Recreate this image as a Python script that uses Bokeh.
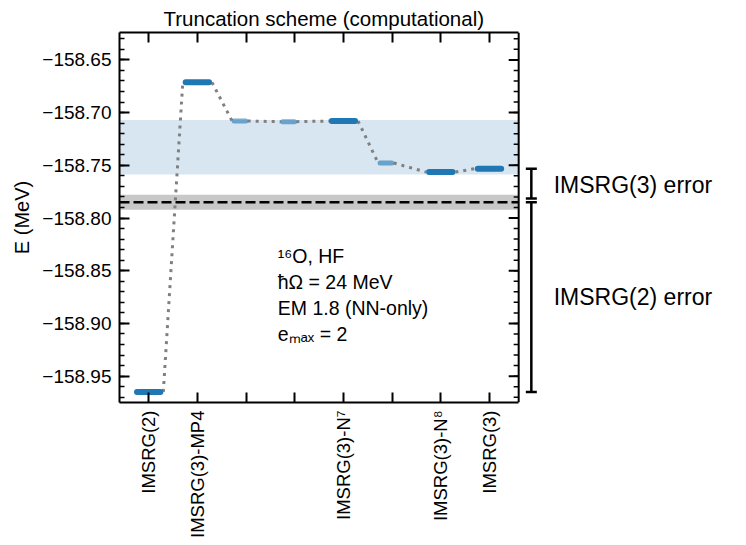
import math
from bokeh.plotting import figure
from bokeh.models import (ColumnDataSource, FixedTicker, LinearAxis, Range1d, Label,
                          Whisker, TeeHead, BoxAnnotation, Span, CustomJSTickFormatter,
                          CustomLabelingPolicy)
from bokeh.embed import file_html
from bokeh.resources import INLINE

# ---------------- data ----------------
positions = [0, 1, 2, 3, 4, 5, 6, 7]
tick_labels = ["IMSRG(2)", "IMSRG(3)-MP4", "", "", "IMSRG(3)-N\u2077", "", "IMSRG(3)-N\u2078", "IMSRG(3)"]
energies = [-158.965, -158.6713, -158.708, -158.7086, -158.708, -158.7478, -158.7564, -158.7532]
highlight = [True, True, False, False, True, False, True, True]
band_range = [-158.7586, -158.707]
exact = -158.785
exact_band = [-158.7921, -158.7779]
y_ticks = [-158.95, -158.90, -158.85, -158.80, -158.75, -158.70, -158.65]
y_minor = [round(-158.97 + 0.01 * i, 2) for i in range(35)]
info_lines = ["\u00b9\u2076O, HF", "\u0127\u03a9 = 24 MeV", "EM 1.8 (NN-only)", "e\u2098\u2090\u2093 = 2"]

FONT = "Liberation Sans"
BLUE = "#1f77b4"

x0, x1 = -0.6, 7.6          # axes box
x_canvas = 12.28             # frame extends right to hold the error-bar annotations
y0, y1 = -158.975, -158.624

p = figure(frame_width=627, frame_height=370, x_range=Range1d(x0, x_canvas),
           y_range=Range1d(y0, y1), output_backend="svg", toolbar_location=None,
           min_border_left=119, min_border_right=0, min_border_top=32, min_border_bottom=0)
p.xgrid.visible = False
p.ygrid.visible = False
p.outline_line_color = None

p.title.text = "Truncation scheme (computational)"
p.title.text_font = FONT
p.title.text_font_size = "20.5px"
p.title.text_font_style = "normal"
p.title.text_color = "black"
p.title.align = "left"
p.title.offset = 44
p.title.standoff = 6

# shaded bands
p.add_layout(BoxAnnotation(left=x0, right=x1, bottom=band_range[0], top=band_range[1],
                           fill_color=BLUE, fill_alpha=0.18, line_alpha=0, level="underlay"))
p.add_layout(BoxAnnotation(left=x0, right=x1, bottom=exact_band[0], top=exact_band[1],
                           fill_color="#c8c8c8", fill_alpha=1.0, line_alpha=0, level="underlay"))
p.segment(x0=[x0], y0=[exact], x1=[x1], y1=[exact], line_color="black", line_width=2.5,
          line_dash="10 4")

# bar extents
lefts, rights = [], []
for x, h in zip(positions, highlight):
    if h:
        lefts.append(x - 0.24); rights.append(x + 0.24)
    else:
        lefts.append(x - 0.247); rights.append(x - 0.007)

# dotted connectors
conn = ColumnDataSource(dict(x0=[r + (0.06 if h else 0.04) for r, h in zip(rights[:-1], highlight[:-1])],
                             y0=energies[:-1],
                             x1=[l - (0.06 if h else 0.04) for l, h in zip(lefts[1:], highlight[1:])],
                             y1=energies[1:]))
p.segment("x0", "y0", "x1", "y1", source=conn, line_color="#808080", line_width=3, line_dash="3 5")

# bars
dark = ColumnDataSource(dict(l=[l for l, h in zip(lefts, highlight) if h],
                             r=[r for r, h in zip(rights, highlight) if h],
                             y=[e for e, h in zip(energies, highlight) if h]))
light = ColumnDataSource(dict(l=[l for l, h in zip(lefts, highlight) if not h],
                              r=[r for r, h in zip(rights, highlight) if not h],
                              y=[e for e, h in zip(energies, highlight) if not h]))
p.segment("l", "y", "r", "y", source=dark, line_color=BLUE, line_width=6, line_cap="round")
p.segment("l", "y", "r", "y", source=light, line_color=BLUE, line_alpha=0.6, line_width=5,
          line_cap="round")

# axes styling
def style_axis(ax):
    ax.axis_line_width = 2
    ax.axis_line_color = "black"
    ax.major_tick_line_width = 2
    ax.minor_tick_line_width = 1.5
    ax.major_tick_in = 10
    ax.major_tick_out = 0
    ax.minor_tick_in = 5
    ax.minor_tick_out = 0
    ax.major_label_text_font = FONT
    ax.major_label_text_color = "black"

xt = FixedTicker(ticks=positions, minor_ticks=[])
yt = FixedTicker(ticks=y_ticks, minor_ticks=y_minor)

keep = [i for i, t in enumerate(tick_labels) if t]
p.xaxis.ticker = xt
p.xaxis.bounds = (x0, x1)
p.xaxis.major_label_overrides = {x: t for x, t in zip(positions, tick_labels)}
p.xaxis.major_label_policy = CustomLabelingPolicy(args=dict(keep=keep), code="""
    for (const i of indices) { if (!keep.includes(i)) indices.unset(i) }
    return indices
""")
p.xaxis.major_label_orientation = math.pi / 2
p.xaxis.major_label_text_font_size = "18.5px"
p.xaxis.major_label_standoff = 8
style_axis(p.xaxis[0])

p.yaxis.ticker = yt
p.yaxis.formatter = CustomJSTickFormatter(code="return '\u2212' + Math.abs(tick).toFixed(2);")
p.yaxis.major_label_text_font_size = "19px"
p.yaxis.major_label_standoff = 8
p.yaxis.axis_label = "E (MeV)"
p.yaxis.axis_label_text_font = FONT
p.yaxis.axis_label_text_font_size = "20px"
p.yaxis.axis_label_text_font_style = "normal"
p.yaxis.axis_label_text_color = "black"
p.yaxis.axis_label_standoff = 6
style_axis(p.yaxis[0])

top = LinearAxis(ticker=xt, bounds=(x0, x1), major_label_text_font_size="0px",
                 major_label_standoff=0,
                 major_label_policy=CustomLabelingPolicy(code="""
    for (const i of indices) { indices.unset(i) }
    return indices
"""))
style_axis(top)
p.add_layout(top, "above")

# right side of the axes box (inside the extended frame)
p.add_layout(Span(location=x1, dimension="height", line_color="black", line_width=2))
p.ray(x=[x1] * len(y_ticks), y=y_ticks, length=10, angle=math.pi, length_units="screen",
      line_color="black", line_width=2)
p.ray(x=[x1] * len(y_minor), y=y_minor, length=5, angle=math.pi, length_units="screen",
      line_color="black", line_width=1.5)

# info text block
for i, line in enumerate(info_lines):
    p.add_layout(Label(x=2.65, y=-158.836 - 0.0248 * i, text=line, text_font=FONT,
                       text_font_size="19.5px", text_baseline="middle", text_color="black"))

# error bars on the right
err = ColumnDataSource(dict(base=[7.86, 7.86], lower=[exact + 0.0035, energies[0]],
                            upper=[energies[-1], exact]))
p.add_layout(Whisker(source=err, base="base", lower="lower", upper="upper", dimension="height",
                     line_width=2.5, line_color="black",
                     upper_head=TeeHead(size=11, line_width=2.5, line_color="black"),
                     lower_head=TeeHead(size=11, line_width=2.5, line_color="black")))
p.add_layout(Label(x=8.32, y=(energies[-1] + exact) / 2, text="IMSRG(3) error", text_font=FONT,
                   text_font_size="23px", text_baseline="middle", text_color="black"))
p.add_layout(Label(x=8.32, y=(energies[0] + exact) / 2, text="IMSRG(2) error", text_font=FONT,
                   text_font_size="23px", text_baseline="middle", text_color="black"))

open("out.html", "w").write(file_html(p, INLINE))
